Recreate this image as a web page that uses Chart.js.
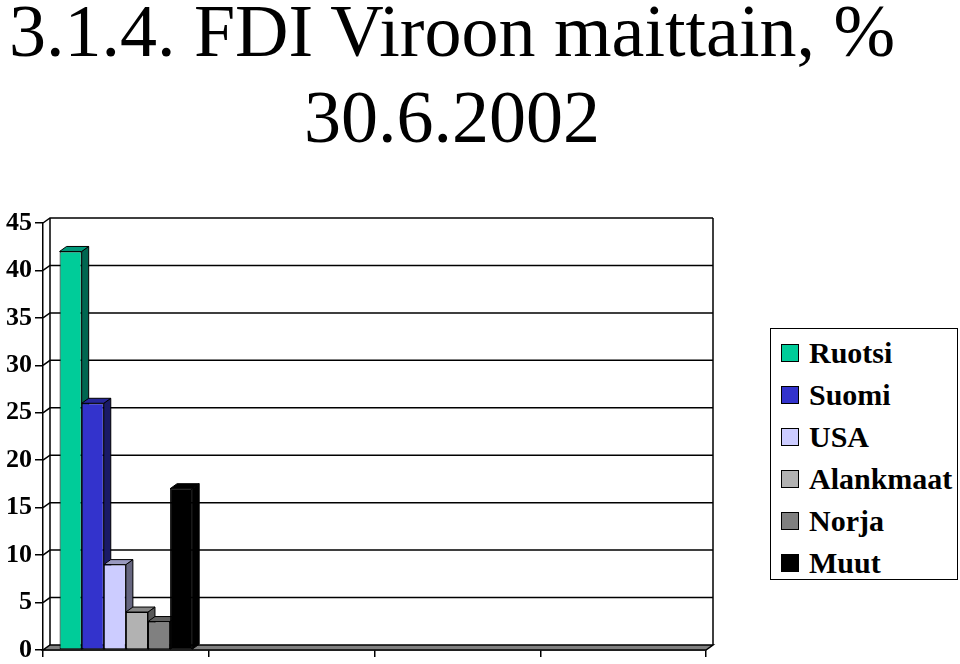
<!DOCTYPE html>
<html>
<head>
<meta charset="utf-8">
<script src="https://cdn.jsdelivr.net/npm/chart.js@4/dist/chart.umd.min.js"></script>
<style>
  html, body { margin: 0; padding: 0; background: #fff; }
  #wrap { position: relative; width: 960px; height: 664px; overflow: hidden; background: #fff; }
  #c { position: absolute; left: 0; top: 0; }
  #title {
    position: absolute; left: 0; top: -12px; width: 904px; text-align: center;
    font-family: 'Liberation Serif', 'Times New Roman', serif; font-size: 74px;
    line-height: 86px; color: #000; white-space: pre;
  }
  #legend {
    position: absolute; left: 770px; top: 328px; width: 186px; height: 247px;
    border: 1px solid #000; background: #fff; box-sizing: content-box; padding-top: 3px;
  }
  .item { display: flex; align-items: center; height: 42px; }
  .sw { width: 16px; height: 16px; border: 1px solid #000; margin-left: 10px; }
  .lbl {
    margin-left: 10px; font-family: 'Liberation Serif', 'Times New Roman', serif;
    font-weight: bold; font-size: 30px; line-height: 42px; color: #000; white-space: nowrap;
  }
</style>
</head>
<body>
<div id="wrap">
  <canvas id="c" width="960" height="664"></canvas>
  <div id="title">3.1.4. FDI Viroon maittain, %
30.6.2002</div>
  <div id="legend"></div>
</div>
<script>
// ---- Data ----
const categories = ['', '', '', ''];
const seriesNames = ['Ruotsi', 'Suomi', 'USA', 'Alankmaat', 'Norja', 'Muut'];
const seriesValues = [42, 26, 9, 4, 3, 17];
const yMin = 0;
const yMax = 45;
const yStep = 5;

// ---- Styles ----
const frontColors = ['#00CC99', '#3333CC', '#CCCCFF', '#B2B2B2', '#808080', '#000000'];
const topColors   = ['#00997A', '#262699', '#9999BF', '#868686', '#606060', '#000000'];
const sideColors  = ['#006650', '#1A1A66', '#666680', '#595959', '#404040', '#000000'];
const DX = 7, DY = -5;

// legend (HTML, built from series arrays)
const legendEl = document.getElementById('legend');
seriesNames.forEach((n, i) => {
  const it = document.createElement('div');
  it.className = 'item';
  const sw = document.createElement('div');
  sw.className = 'sw';
  sw.style.background = frontColors[i];
  const lb = document.createElement('span');
  lb.className = 'lbl';
  lb.textContent = n;
  it.appendChild(sw); it.appendChild(lb);
  legendEl.appendChild(it);
});

const threeD = {
  id: 'threeD',
  beforeDatasetsDraw(chart) {
    const ctx = chart.ctx;
    const ca = chart.chartArea;
    const ys = chart.scales.y;
    const L = ca.left, R = ca.right, T = ca.top, B = ca.bottom;
    ctx.save();
    ctx.lineJoin = 'miter';
    // floor
    ctx.beginPath();
    ctx.moveTo(L, B); ctx.lineTo(R, B); ctx.lineTo(R + DX, B + DY); ctx.lineTo(L + DX, B + DY);
    ctx.closePath();
    ctx.fillStyle = '#808080'; ctx.fill();
    ctx.strokeStyle = '#000'; ctx.lineWidth = 1.5; ctx.stroke();
    // back wall gridlines & side diagonals
    ctx.lineWidth = 1.5;
    for (let v = yMin + yStep; v <= yMax; v += yStep) {
      const y = ys.getPixelForValue(v);
      ctx.beginPath();
      ctx.moveTo(L, y); ctx.lineTo(L + DX, y + DY); ctx.lineTo(R + DX, y + DY);
      ctx.stroke();
    }
    // wall edges
    ctx.beginPath();
    ctx.moveTo(L + DX, B + DY); ctx.lineTo(L + DX, T + DY);
    ctx.moveTo(R + DX, B + DY); ctx.lineTo(R + DX, T + DY);
    ctx.stroke();
    // bars
    chart.data.datasets.forEach((ds, i) => {
      const meta = chart.getDatasetMeta(i);
      if (!chart.isDatasetVisible(i)) return;
      meta.data.forEach((el) => {
        const p = el.getProps(['x', 'y', 'base', 'width'], true);
        const xl = p.x - p.width / 2, xr = p.x + p.width / 2;
        const top = p.y, base = p.base;
        ctx.lineWidth = 1;
        ctx.strokeStyle = '#000';
        // side
        ctx.beginPath();
        ctx.moveTo(xr, top); ctx.lineTo(xr + DX, top + DY); ctx.lineTo(xr + DX, base + DY); ctx.lineTo(xr, base);
        ctx.closePath();
        ctx.fillStyle = sideColors[i]; ctx.fill(); ctx.stroke();
        // top
        ctx.beginPath();
        ctx.moveTo(xl, top); ctx.lineTo(xl + DX, top + DY); ctx.lineTo(xr + DX, top + DY); ctx.lineTo(xr, top);
        ctx.closePath();
        ctx.fillStyle = topColors[i]; ctx.fill(); ctx.stroke();
        // front
        el.draw(ctx, ca);
      });
    });
    ctx.restore();
    return false;
  }
};

new Chart(document.getElementById('c'), {
  type: 'bar',
  data: {
    labels: categories,
    datasets: seriesNames.map((n, i) => ({
      label: n,
      data: [seriesValues[i]],
      backgroundColor: frontColors[i],
      borderColor: '#000',
      borderWidth: 1,
      borderSkipped: false
    }))
  },
  options: {
    responsive: false,
    animation: false,
    events: [],
    layout: { padding: { top: 223, left: 0, right: 254, bottom: 0 } },
    datasets: { bar: { categoryPercentage: 0.8, barPercentage: 1.0 } },
    plugins: { legend: { display: false }, title: { display: false }, tooltip: { enabled: false } },
    scales: {
      x: {
        grid: { display: true, drawOnChartArea: false, drawTicks: true, tickLength: 7, color: '#000', lineWidth: 1.5, offset: true },
        border: { display: true, color: '#000', width: 1.5 },
        ticks: { display: false },
        afterFit(s) { s.height = 14; s.paddingLeft = 0; s.paddingRight = 0; s.paddingTop = 0; s.paddingBottom = 0; }
      },
      y: {
        min: yMin, max: yMax,
        grid: { display: true, drawOnChartArea: false, drawTicks: true, tickLength: 8, color: '#000', lineWidth: 1.5 },
        border: { display: true, color: '#000', width: 1.5 },
        ticks: {
          stepSize: yStep, padding: 3, color: '#000',
          font: { family: "'Liberation Serif', 'Times New Roman', serif", size: 26, weight: 'bold' }
        },
        afterFit(s) { s.width = 43; s.paddingTop = 0; s.paddingBottom = 0; s.paddingLeft = 0; s.paddingRight = 0; }
      }
    }
  },
  plugins: [threeD]
});
</script>
</body>
</html>
